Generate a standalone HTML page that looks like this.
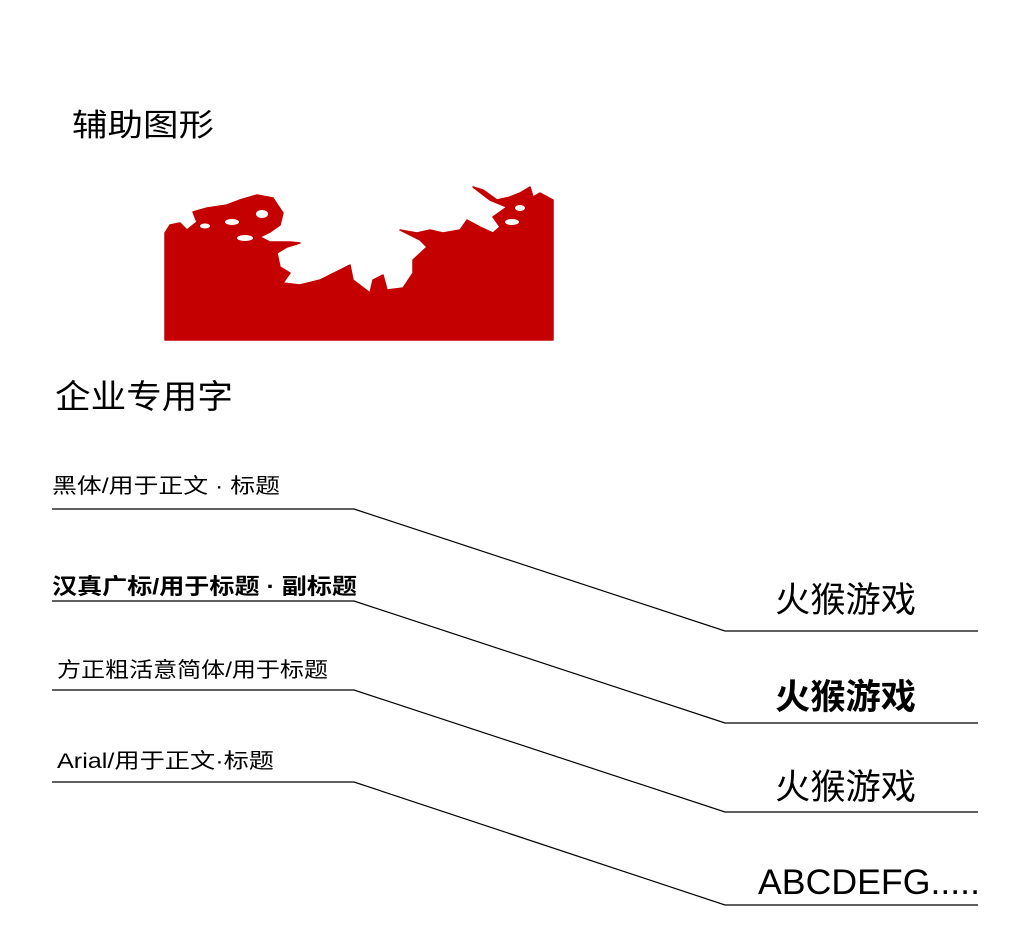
<!DOCTYPE html>
<html><head><meta charset="utf-8"><style>
html,body{margin:0;padding:0;background:#fff;}
svg{display:block;}
text{font-family:"Liberation Sans","Noto Sans CJK SC",sans-serif;fill:#000;}
</style></head><body>
<svg width="1032" height="949" viewBox="0 0 1032 949" xmlns="http://www.w3.org/2000/svg">
<text x="72" y="136" font-size="31" textLength="142" lengthAdjust="spacingAndGlyphs">辅助图形</text>
<path fill="#c40000" stroke="#c40000" stroke-width="1.5" stroke-linejoin="round" d="M165,340 L165,233 L170,225 L180,223 L187,230 L197,222 L193,212 L207,208 L227,205 L240,200 L257,195 L273,198 L283,213 L280,225 L270,232 L260,237 L270,242 L290,242 L300,243 L287,247 L277,253 L280,267 L290,273 L283,283 L300,285 L320,280 L340,270 L350,265 L353,280 L370,293 L373,280 L383,275 L387,290 L403,288 L413,273 L413,260 L427,247 L420,240 L400,230 L417,233 L430,230 L443,233 L460,230 L467,220 L480,227 L493,233 L500,227 L493,217 L507,207 L490,200 L473,187 L483,190 L497,200 L510,197 L520,193 L530,187 L533,197 L540,193 L553,200 L553,340 Z"/>
<g fill="#fff">
<ellipse cx="232" cy="222" rx="7" ry="3"/>
<ellipse cx="262" cy="214" rx="6" ry="4"/>
<ellipse cx="245" cy="238" rx="8" ry="3"/>
<ellipse cx="205" cy="226" rx="5" ry="2.5"/>
<ellipse cx="512" cy="222" rx="7" ry="3"/>
<ellipse cx="520" cy="208" rx="5" ry="3"/>
<ellipse cx="478" cy="216" rx="5" ry="2.5"/>
</g>
<text x="55" y="408" font-size="33" textLength="178" lengthAdjust="spacingAndGlyphs">企业专用字</text>
<text x="52" y="493" font-size="21" textLength="228" lengthAdjust="spacingAndGlyphs">黑体/用于正文 · 标题</text>
<text x="52" y="594" font-size="22" font-weight="bold" textLength="305" lengthAdjust="spacingAndGlyphs">汉真广标/用于标题 · 副标题</text>
<text x="57" y="677" font-size="21" textLength="271" lengthAdjust="spacingAndGlyphs">方正粗活意简体/用于标题</text>
<text x="57" y="768" font-size="21" textLength="217" lengthAdjust="spacingAndGlyphs">Arial/用于正文·标题</text>
<g stroke="#000" stroke-width="1.2" fill="none">
<polyline points="52,509 354,509 725,631 978,631"/>
<polyline points="52,601 354,601 725,723 978,723"/>
<polyline points="52,690 354,690 725,812 978,812"/>
<polyline points="52,782 354,782 725,905 978,905"/>
</g>
<text x="775" y="612" font-size="35" textLength="141" lengthAdjust="spacingAndGlyphs">火猴游戏</text>
<text x="775" y="709" font-size="35" font-weight="bold" textLength="141" lengthAdjust="spacingAndGlyphs">火猴游戏</text>
<text x="775" y="799" font-size="35" textLength="141" lengthAdjust="spacingAndGlyphs">火猴游戏</text>
<text x="758" y="894" font-size="35" textLength="222" lengthAdjust="spacingAndGlyphs">ABCDEFG.....</text>
</svg>
</body></html>
